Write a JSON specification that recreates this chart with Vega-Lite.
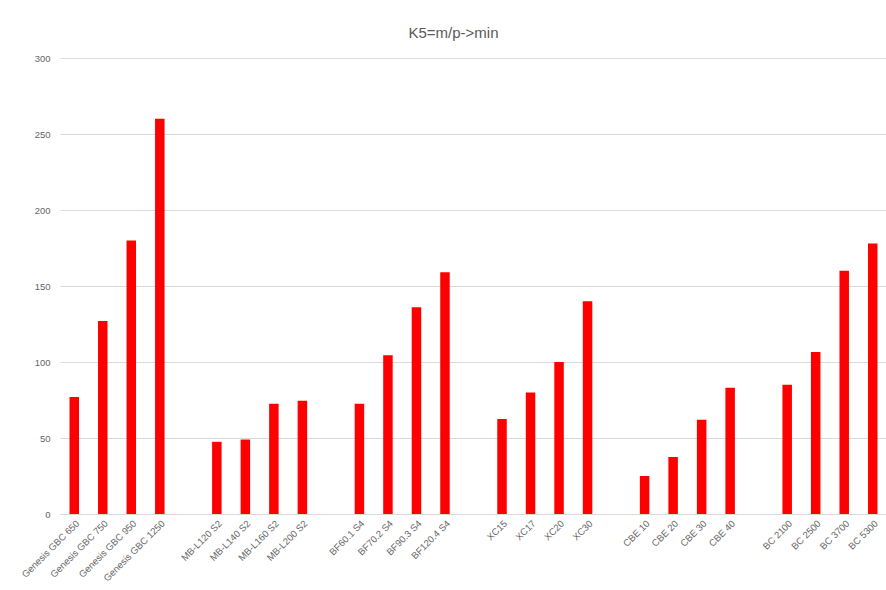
{
  "$schema": "https://vega.github.io/schema/vega-lite/v6.json",
  "autosize": "none",
  "width": 827,
  "height": 456,
  "padding": {"left": 60, "top": 58, "right": 0, "bottom": 76},
  "background": "white",
  "title": {
    "text": "K5=m/p->min",
    "anchor": "middle",
    "dx": -20,
    "offset": 12,
    "fontSize": 15,
    "font": "Liberation Sans",
    "fontWeight": "normal",
    "color": "#595959"
  },
  "config": {
    "view": {"stroke": null},
    "font": "Liberation Sans"
  },
  "data": {
    "values": [
      {"model": "Genesis GBC 650", "value": 77},
      {"model": "Genesis GBC 750", "value": 127},
      {"model": "Genesis GBC 950", "value": 180},
      {"model": "Genesis GBC 1250", "value": 260},
      {"model": "MB-L120 S2", "value": 47.5},
      {"model": "MB-L140 S2", "value": 49},
      {"model": "MB-L160 S2", "value": 72.5},
      {"model": "MB-L200 S2", "value": 74.5},
      {"model": "BF60.1 S4", "value": 72.5},
      {"model": "BF70.2 S4", "value": 104.5},
      {"model": "BF90.3 S4", "value": 136},
      {"model": "BF120.4 S4", "value": 159},
      {"model": "XC15", "value": 62.5},
      {"model": "XC17", "value": 80},
      {"model": "XC20", "value": 100},
      {"model": "XC30", "value": 140},
      {"model": "CBE 10", "value": 25},
      {"model": "CBE 20", "value": 37.5},
      {"model": "CBE 30", "value": 62},
      {"model": "CBE 40", "value": 83},
      {"model": "BC 2100", "value": 85},
      {"model": "BC 2500", "value": 106.5},
      {"model": "BC 3700", "value": 160},
      {"model": "BC 5300", "value": 178}
    ]
  },
  "mark": {"type": "bar", "color": "#ff0000", "width": 9.5},
  "encoding": {
    "x": {
      "field": "model",
      "type": "nominal",
      "title": null,
      "scale": {
        "domain": [
          "Genesis GBC 650", "Genesis GBC 750", "Genesis GBC 950", "Genesis GBC 1250", "gap1",
          "MB-L120 S2", "MB-L140 S2", "MB-L160 S2", "MB-L200 S2", "gap2",
          "BF60.1 S4", "BF70.2 S4", "BF90.3 S4", "BF120.4 S4", "gap3",
          "XC15", "XC17", "XC20", "XC30", "gap4",
          "CBE 10", "CBE 20", "CBE 30", "CBE 40", "gap5",
          "BC 2100", "BC 2500", "BC 3700", "BC 5300"
        ],
        "paddingInner": 0,
        "paddingOuter": 0
      },
      "axis": {
        "labelAngle": -45,
        "labelExpr": "test(/^gap/, datum.value) ? '' : datum.value",
        "labelFontSize": 9.5,
        "labelColor": "#666666",
        "labelPadding": 4,
        "ticks": false,
        "domainColor": "#d9d9d9",
        "domainWidth": 1,
        "grid": false
      }
    },
    "y": {
      "field": "value",
      "type": "quantitative",
      "title": null,
      "scale": {"domain": [0, 300], "nice": false},
      "axis": {
        "values": [0, 50, 100, 150, 200, 250, 300],
        "labelFontSize": 9.5,
        "labelColor": "#666666",
        "labelPadding": 10,
        "ticks": false,
        "domain": false,
        "gridColor": "#d9d9d9",
        "gridWidth": 1
      }
    }
  }
}
